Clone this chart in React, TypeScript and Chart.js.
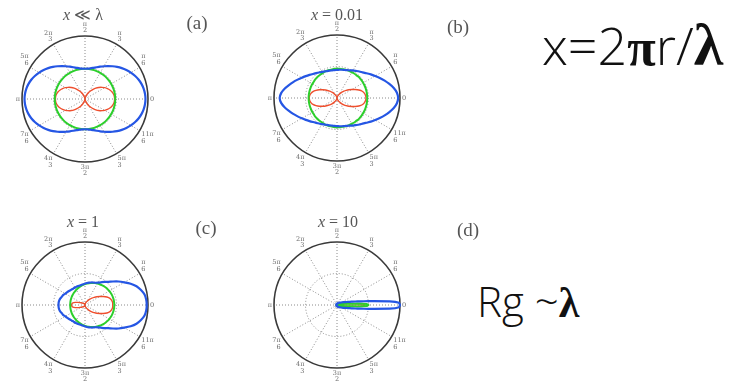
import { useEffect, useRef } from 'react';
import { Chart, registerables } from 'chart.js';

Chart.register(...registerables);

// Angular tick labels every 30°, counter-clockwise from 0
const angleTickLabels: (string | string[])[] = [
  '0', ['π', '6'], ['π', '3'], ['π', '2'], ['2π', '3'], ['5π', '6'],
  'π', ['7π', '6'], ['4π', '3'], ['3π', '2'], ['5π', '3'], ['11π', '6'],
];

// Scattered intensity (normalised), sampled from θ = 0 to θ = π; patterns are symmetric about θ = 0
// (a) x ≪ λ, 5° steps
const totalA = [0.96, 0.956, 0.945, 0.928, 0.904, 0.874, 0.84, 0.802, 0.762, 0.72, 0.678, 0.638, 0.6, 0.566, 0.536, 0.512, 0.494, 0.484, 0.48,
  0.484, 0.494, 0.512, 0.536, 0.566, 0.6, 0.638, 0.678, 0.72, 0.762, 0.802, 0.84, 0.874, 0.904, 0.928, 0.945, 0.956, 0.96];
const perpA = [0.48, 0.48, 0.48, 0.48, 0.48, 0.48, 0.48, 0.48, 0.48, 0.48, 0.48, 0.48, 0.48, 0.48, 0.48, 0.48, 0.48, 0.48, 0.48,
  0.48, 0.48, 0.48, 0.48, 0.48, 0.48, 0.48, 0.48, 0.48, 0.48, 0.48, 0.48, 0.48, 0.48, 0.48, 0.48, 0.48, 0.48];
const parA = [0.47, 0.467, 0.458, 0.442, 0.42, 0.392, 0.36, 0.323, 0.284, 0.243, 0.2, 0.16, 0.122, 0.087, 0.057, 0.032, 0.015, 0.004, 0,
  0.004, 0.015, 0.032, 0.057, 0.087, 0.122, 0.16, 0.2, 0.243, 0.284, 0.323, 0.36, 0.392, 0.42, 0.442, 0.458, 0.467, 0.47];

// (b) x = 0.01, 5° steps
const totalB = [0.97, 0.955, 0.915, 0.86, 0.805, 0.75, 0.7, 0.655, 0.61, 0.575, 0.55, 0.525, 0.505, 0.485, 0.47, 0.46, 0.455, 0.45, 0.445,
  0.445, 0.445, 0.45, 0.455, 0.465, 0.48, 0.495, 0.515, 0.54, 0.57, 0.605, 0.645, 0.69, 0.74, 0.79, 0.845, 0.89, 0.91];
const perpB = [0.48, 0.48, 0.48, 0.48, 0.48, 0.48, 0.48, 0.48, 0.48, 0.48, 0.475, 0.475, 0.47, 0.47, 0.47, 0.47, 0.465, 0.465, 0.465,
  0.465, 0.46, 0.46, 0.46, 0.46, 0.455, 0.455, 0.455, 0.455, 0.455, 0.45, 0.45, 0.45, 0.45, 0.45, 0.45, 0.45, 0.45];
const parB = [0.46, 0.455, 0.44, 0.415, 0.37, 0.32, 0.27, 0.23, 0.19, 0.155, 0.12, 0.09, 0.07, 0.05, 0.03, 0.02, 0.01, 0.005, 0,
  0.005, 0.01, 0.02, 0.03, 0.045, 0.065, 0.09, 0.115, 0.15, 0.18, 0.22, 0.26, 0.31, 0.355, 0.395, 0.42, 0.435, 0.44];

// (c) x = 1, 5° steps
const totalC = [0.98, 0.975, 0.96, 0.92, 0.87, 0.8, 0.72, 0.65, 0.58, 0.52, 0.48, 0.44, 0.41, 0.39, 0.38, 0.37, 0.36, 0.35, 0.34,
  0.33, 0.325, 0.32, 0.32, 0.32, 0.32, 0.32, 0.325, 0.33, 0.34, 0.35, 0.36, 0.38, 0.39, 0.405, 0.415, 0.42, 0.42];
const perpC = [0.465, 0.464, 0.463, 0.46, 0.456, 0.451, 0.445, 0.438, 0.43, 0.422, 0.413, 0.403, 0.393, 0.383, 0.372, 0.362, 0.351, 0.341, 0.331,
  0.321, 0.311, 0.302, 0.294, 0.286, 0.278, 0.271, 0.265, 0.259, 0.254, 0.25, 0.246, 0.242, 0.24, 0.238, 0.236, 0.235, 0.235];
const parC = [0.44, 0.44, 0.43, 0.41, 0.37, 0.32, 0.27, 0.23, 0.19, 0.155, 0.12, 0.095, 0.075, 0.055, 0.04, 0.03, 0.02, 0.015, 0.01,
  0.01, 0.01, 0.012, 0.014, 0.016, 0.02, 0.025, 0.03, 0.035, 0.045, 0.055, 0.07, 0.09, 0.12, 0.16, 0.195, 0.21, 0.215];

// (d) x = 10, 2° steps (strong forward lobe)
const totalD = [1.0, 0.985, 0.84, 0.58, 0.43, 0.33, 0.26, 0.21, 0.175, 0.15, 0.13,
  0.12, 0.11, 0.1, 0.09, 0.08, 0.075, 0.07, 0.065, 0.06, 0.055,
  0.05, 0.05, 0.045, 0.045, 0.04, 0.04, 0.04, 0.035, 0.035, 0.035,
  0.03, 0.03, 0.03, 0.03, 0.03, 0.025, 0.025, 0.025, 0.025, 0.025,
  0.02, 0.02, 0.02, 0.02, 0.02, 0.02, 0.02, 0.02, 0.02, 0.02,
  0.02, 0.02, 0.02, 0.02, 0.02, 0.015, 0.015, 0.015, 0.015, 0.015,
  0.015, 0.015, 0.015, 0.015, 0.015, 0.015, 0.015, 0.015, 0.015, 0.015,
  0.01, 0.01, 0.01, 0.01, 0.01, 0.01, 0.01, 0.01, 0.01, 0.01,
  0.01, 0.01, 0.01, 0.01, 0.01, 0.01, 0.01, 0.01, 0.01, 0.01];
const perpD = [0.5, 0.47, 0.32, 0.2, 0.14, 0.1, 0.08, 0.065, 0.055, 0.05, 0.045,
  0.04, 0.04, 0.035, 0.035, 0.03, 0.03, 0.03, 0.03, 0.03, 0.03,
  0.025, 0.025, 0.025, 0.025, 0.025, 0.02, 0.02, 0.02, 0.02, 0.02,
  0.02, 0.02, 0.02, 0.02, 0.02, 0.015, 0.015, 0.015, 0.015, 0.015,
  0.015, 0.015, 0.015, 0.015, 0.015, 0.015, 0.015, 0.015, 0.015, 0.015,
  0.015, 0.015, 0.015, 0.015, 0.015, 0.01, 0.01, 0.01, 0.01, 0.01,
  0.01, 0.01, 0.01, 0.01, 0.01, 0.01, 0.01, 0.01, 0.01, 0.01,
  0.01, 0.01, 0.01, 0.01, 0.01, 0.01, 0.01, 0.01, 0.01, 0.01,
  0.01, 0.01, 0.01, 0.01, 0.01, 0.01, 0.01, 0.01, 0.01, 0.01];
const parD = [0.44, 0.41, 0.28, 0.17, 0.12, 0.09, 0.07, 0.06, 0.05, 0.045, 0.04,
  0.035, 0.035, 0.03, 0.03, 0.03, 0.025, 0.025, 0.025, 0.025, 0.025,
  0.02, 0.02, 0.02, 0.02, 0.02, 0.02, 0.02, 0.02, 0.02, 0.02,
  0.015, 0.015, 0.015, 0.015, 0.015, 0.015, 0.015, 0.015, 0.015, 0.015,
  0.015, 0.015, 0.015, 0.015, 0.015, 0.01, 0.01, 0.01, 0.01, 0.01,
  0.01, 0.01, 0.01, 0.01, 0.01, 0.01, 0.01, 0.01, 0.01, 0.01,
  0.01, 0.01, 0.01, 0.01, 0.01, 0.01, 0.01, 0.01, 0.01, 0.01,
  0.01, 0.01, 0.01, 0.01, 0.01, 0.01, 0.01, 0.01, 0.01, 0.01,
  0.01, 0.01, 0.01, 0.01, 0.01, 0.01, 0.01, 0.01, 0.01, 0.01];

const BLUE = '#2556e4';
const GREEN = '#2ccf2c';
const RED = '#ef4f2e';

type PanelProps = {
  step: number;
  total: number[];
  perp: number[];
  par: number[];
  cx: number;
  cy: number;
  size: number;
  tension: number;
};

function PolarPanel({ step, total, perp, par, cx, cy, size, tension }: PanelProps) {
  const ref = useRef<HTMLCanvasElement>(null);

  useEffect(() => {
    const n = 360 / step;
    // radar runs clockwise from the start angle, so index i sits at θ = -i·step
    const labels = Array.from({ length: n }, (_, i) => {
      const deg = (360 - i * step) % 360;
      return deg % 30 === 0 ? angleTickLabels[deg / 30] : '';
    });
    const around = (half: number[]) => labels.map((_, i) => half[i <= n / 2 ? i : n - i]);
    const isMajor = (i: number) => ((i * step) % 30) === 0;

    const chart = new Chart(ref.current as HTMLCanvasElement, {
      type: 'radar',
      data: {
        labels,
        datasets: [
          { data: around(total), borderColor: BLUE, borderWidth: 2.2 },
          { data: around(perp), borderColor: GREEN, borderWidth: 2 },
          { data: around(par), borderColor: RED, borderWidth: 1.4 },
        ].map((d) => ({ ...d, fill: false, pointRadius: 0, pointHoverRadius: 0, tension })),
      },
      options: {
        responsive: false,
        animation: false,
        events: [],
        layout: { padding: 0 },
        plugins: { legend: { display: false }, tooltip: { enabled: false } },
        scales: {
          r: {
            min: 0,
            max: 1,
            startAngle: 90,
            ticks: { display: false, stepSize: 0.5 },
            grid: {
              circular: true,
              color: (ctx: any) => (ctx.index === 2 ? '#3a3a3a' : '#8a8a8a'),
              lineWidth: (ctx: any) => (ctx.index === 2 ? 1.6 : 1),
            },
            border: { dash: (ctx: any) => (ctx.index === 2 ? [] : [1, 2]) },
            angleLines: {
              color: (ctx: any) => (isMajor(ctx.index) ? '#8a8a8a' : 'transparent'),
              lineWidth: (ctx: any) => (isMajor(ctx.index) ? 1 : 0),
              borderDash: [1, 2],
            },
            pointLabels: {
              font: { size: 6.5, family: 'DejaVu Serif', lineHeight: 1 },
              color: '#6a6a6a',
              padding: 2,
            },
          },
        },
      },
    } as any);
    return () => chart.destroy();
  }, []);

  return (
    <canvas
      ref={ref}
      width={size}
      height={size}
      style={{ position: 'absolute', left: cx - size / 2, top: cy - size / 2, width: size, height: size }}
    />
  );
}

function Label({ x, y, size, children, style }: any) {
  return (
    <div
      style={{
        position: 'absolute',
        left: x,
        top: y,
        transform: 'translate(-50%, -50%)',
        whiteSpace: 'nowrap',
        fontSize: size,
        lineHeight: 1,
        ...style,
      }}
    >
      {children}
    </div>
  );
}

const serif = { fontFamily: '"Liberation Serif", "DejaVu Serif", serif', color: '#555' };
const boldGreek = { fontFamily: '"Liberation Serif", serif', fontWeight: 700 };

export default function App() {
  return (
    <div style={{ position: 'absolute', left: 0, top: 0, width: 731, height: 386, background: '#fff', overflow: 'hidden' }}>
      <PolarPanel step={5} total={totalA} perp={perpA} par={parA} cx={84.5} cy={98.5} size={156} tension={0.2} />
      <PolarPanel step={5} total={totalB} perp={perpB} par={parB} cx={337} cy={98} size={156} tension={0.2} />
      <PolarPanel step={5} total={totalC} perp={perpC} par={parC} cx={85} cy={305} size={156} tension={0.2} />
      <PolarPanel step={2} total={totalD} perp={perpD} par={parD} cx={337} cy={305} size={156} tension={0.1} />

      <Label x={83} y={15} size={16} style={serif}><i>x</i> ≪ λ</Label>
      <Label x={337} y={15} size={16} style={serif}><i>x</i> = 0.01</Label>
      <Label x={83} y={222} size={16} style={serif}><i>x</i> = 1</Label>
      <Label x={338} y={222} size={16} style={serif}><i>x</i> = 10</Label>

      <Label x={197} y={22} size={19} style={serif}>(a)</Label>
      <Label x={458} y={26} size={19} style={serif}>(b)</Label>
      <Label x={206} y={227} size={19} style={serif}>(c)</Label>
      <Label x={468} y={229} size={19} style={serif}>(d)</Label>

      <div style={{ position: 'absolute', left: 542, top: 15, fontSize: 52, lineHeight: 1, whiteSpace: 'nowrap', color: '#111', fontFamily: '"Open Sans", "DejaVu Sans", sans-serif', fontWeight: 300 }}>
        x=2<span style={boldGreek}>π</span>r/<span style={{ ...boldGreek, fontSize: 60 }}>λ</span>
      </div>
      <div style={{ position: 'absolute', left: 477, top: 280, fontSize: 42, lineHeight: 1, whiteSpace: 'nowrap', color: '#111', fontFamily: '"Open Sans", "DejaVu Sans", sans-serif', fontWeight: 300 }}>
        Rg ~<span style={boldGreek}>λ</span>
      </div>
    </div>
  );
}
